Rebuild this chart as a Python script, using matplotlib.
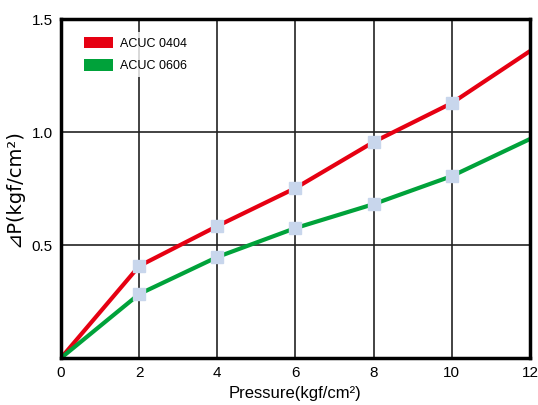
import matplotlib
matplotlib.use("Agg")
import matplotlib.pyplot as plt
from matplotlib.patches import Patch

plt.rcParams["font.family"] = ["Liberation Sans", "DejaVu Sans", "Noto Sans CJK KR"]

pressure = [0, 2, 4, 6, 8, 10, 12]
dp_0404 = [0.0, 0.407, 0.584, 0.752, 0.956, 1.128, 1.358]
dp_0606 = [0.0, 0.283, 0.447, 0.575, 0.681, 0.805, 0.969]
series_names = ["ACUC 0404", "ACUC 0606"]
series_colors = ["#e60012", "#00a23a"]
x_ticks = [0, 2, 4, 6, 8, 10, 12]
y_ticks = [0.5, 1.0, 1.5]
marker_color = "#c8d6ec"

fig = plt.figure(figsize=(5.38, 4.05), dpi=100)
ax = fig.add_axes([0.1134, 0.116, 0.8716, 0.837])

for vals, color in zip([dp_0404, dp_0606], series_colors):
    ax.plot(pressure, vals, color=color, lw=3, zorder=3, solid_capstyle="butt")
    # markers only at interior points
    ax.plot(pressure[1:-1], vals[1:-1], ls="none", marker="s", ms=9,
            mfc=marker_color, mec=marker_color, zorder=4)

ax.set_xlim(0, 12)
ax.set_ylim(0, 1.5)
ax.set_xticks(x_ticks)
ax.set_yticks(y_ticks)
ax.set_yticklabels([f"{v:.1f}" for v in y_ticks])
ax.grid(True, color="#222222", lw=1.2, zorder=1)
ax.tick_params(length=0, labelsize=11, pad=6)

for s in ax.spines.values():
    s.set_linewidth(2.5)
    s.set_zorder(5)

ax.set_xlabel("Pressure(kgf/cm\u00b2)", fontsize=12, labelpad=4)
ax.set_ylabel("\u22bfP(kgf/cm\u00b2)", fontsize=14, labelpad=6,
              family=["DejaVu Sans", "Noto Sans CJK KR"])

handles = [Patch(facecolor=c, edgecolor="none") for c in series_colors]
leg = ax.legend(handles, series_names, loc="upper left", frameon=True,
                bbox_to_anchor=(0.025, 0.98), fontsize=9, handlelength=2.3,
                handleheight=1.0, labelspacing=0.75, handletextpad=0.6,
                borderpad=0.4, fancybox=False)
leg.get_frame().set_facecolor("white")
leg.get_frame().set_edgecolor("none")
leg.set_zorder(6)

fig.savefig("out.png", dpi=100)
